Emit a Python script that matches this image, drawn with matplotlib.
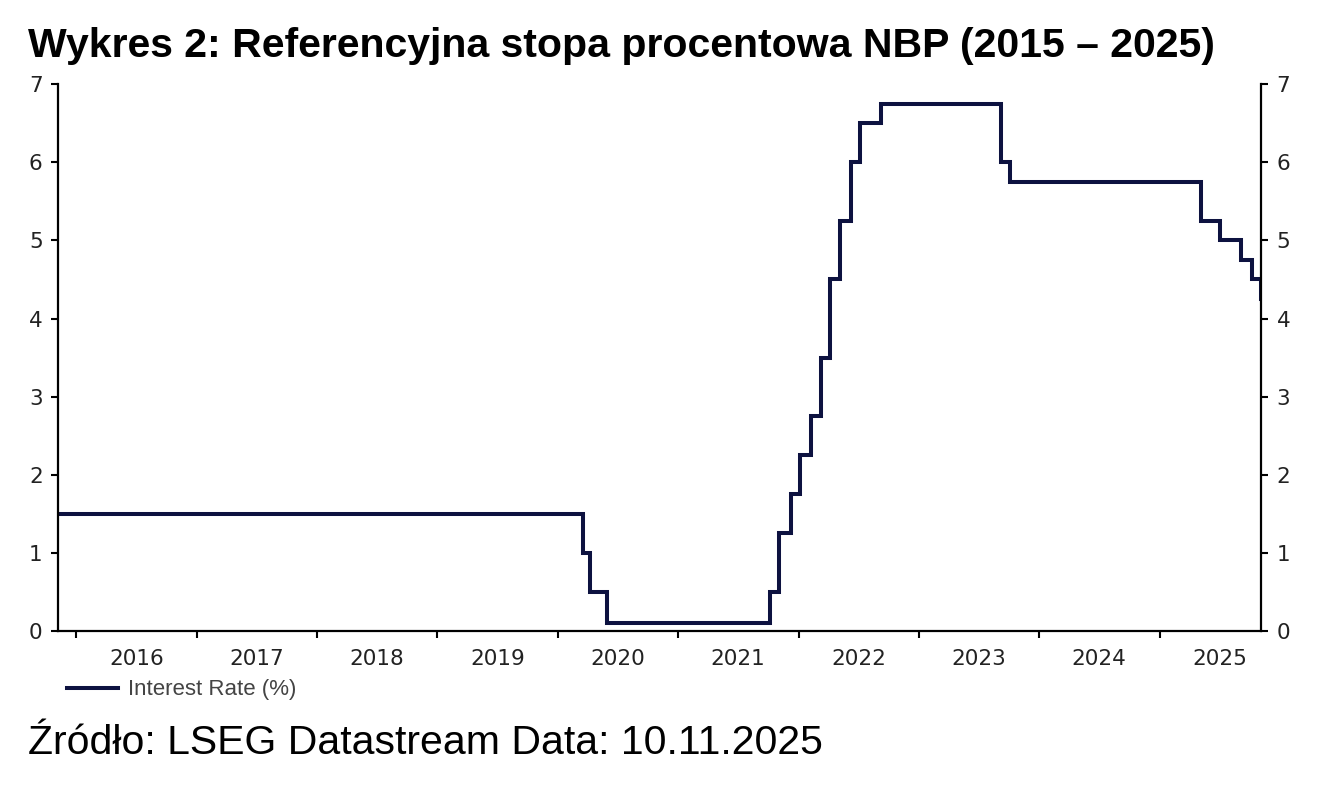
import numpy as np
import matplotlib
matplotlib.use("Agg")
import matplotlib.pyplot as plt
from matplotlib.lines import Line2D

# Data: NBP reference rate change points
change_dates = ["2015-11-06", "2020-03-18", "2020-04-09", "2020-05-29", "2021-10-07",
                "2021-11-04", "2021-12-09", "2022-01-05", "2022-02-09", "2022-03-09",
                "2022-04-07", "2022-05-06", "2022-06-09", "2022-07-08", "2022-09-08",
                "2023-09-07", "2023-10-05", "2025-05-08", "2025-07-03", "2025-09-04",
                "2025-10-09", "2025-11-06", "2025-11-10"]
rates = [1.5, 1.0, 0.5, 0.1, 0.5,
         1.25, 1.75, 2.25, 2.75, 3.5,
         4.5, 5.25, 6.0, 6.5, 6.75,
         6.0, 5.75, 5.25, 5.0, 4.75,
         4.5, 4.25, 4.25]
years = list(range(2016, 2026))
series_label = "Interest Rate (%)"
title = "Wykres 2: Referencyjna stopa procentowa NBP (2015 – 2025)"
source = "Źródło: LSEG Datastream Data: 10.11.2025"

dates = np.array(change_dates, dtype="datetime64[D]")

fig = plt.figure(figsize=(13.18, 7.86), dpi=100)
ax = fig.add_axes([0.044, 0.197, 0.913, 0.696])

line_color = "#0d1240"
ax.plot(dates, rates, drawstyle="steps-post", color=line_color, lw=2.9,
        label=series_label, solid_joinstyle="miter")

ax.set_xlim(np.datetime64("2015-11-06"), np.datetime64("2025-11-06"))
ax.set_ylim(0, 7)

# Year boundary ticks (no labels) and mid-year labels (no ticks)
ax.set_xticks([np.datetime64(f"{y}-01-01") for y in years])
ax.set_xticklabels([])
ax.set_xticks([np.datetime64(f"{y}-07-02") for y in years], minor=True)
ax.set_xticklabels([str(y) for y in years], minor=True)
ax.tick_params(axis="x", which="major", direction="out", length=5, width=1.5, color="black")
ax.tick_params(axis="x", which="minor", length=0, pad=13, labelsize=15.5, labelcolor="#222222")

ax.set_yticks(range(0, 8))
ax.tick_params(axis="y", which="major", direction="out", length=5, width=1.5,
               labelsize=15.5, labelcolor="#222222", left=True, right=True,
               labelleft=True, labelright=True, pad=6)

for s in ["left", "right", "bottom"]:
    ax.spines[s].set_linewidth(1.6)
    ax.spines[s].set_color("black")
ax.spines["top"].set_visible(False)

fig.text(28 / 1318, 1 - 46 / 786, title, fontsize=29.5, fontweight="bold",
         family="Liberation Sans", va="center", ha="left", color="black")
fig.text(28 / 1318, 1 - 743 / 786, source, fontsize=29.5, family="Liberation Sans",
         va="center", ha="left", color="black")

handle = Line2D([], [], color=line_color, lw=2.9)
leg = fig.legend([handle], [series_label], loc="center left",
                 bbox_to_anchor=(47 / 1318, 1 - 690 / 786),
                 frameon=False, handlelength=2.3, handletextpad=0.45,
                 prop={"family": "Liberation Sans", "size": 16})
for t in leg.get_texts():
    t.set_color("#444444")

fig.savefig("out.png", dpi=100)
